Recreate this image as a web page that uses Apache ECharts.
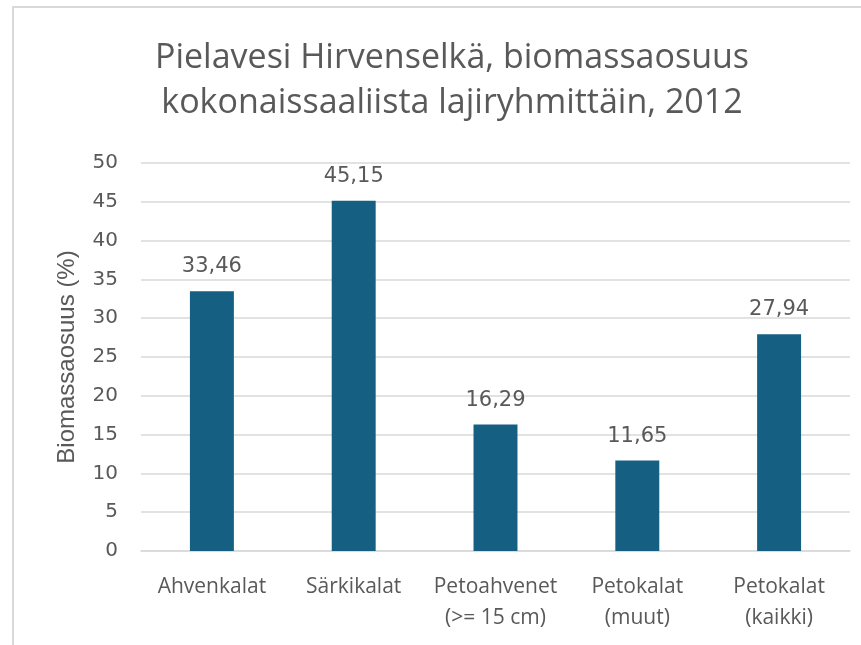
<!DOCTYPE html>
<html>
<head>
<meta charset="utf-8">
<script src="https://cdn.jsdelivr.net/npm/echarts@6/dist/echarts.min.js"></script>
<style>
  html, body { margin: 0; padding: 0; background: #fff; }
  #chart { width: 861px; height: 645px; }
</style>
</head>
<body>
<div id="chart"></div>
<script>
// data
var categories = ['Ahvenkalat', 'Särkikalat', 'Petoahvenet\n(>= 15 cm)', 'Petokalat\n(muut)', 'Petokalat\n(kaikki)'];
var values = [33.46, 45.15, 16.29, 11.65, 27.94];

var sans = '"Open Sans", "Noto Sans", sans-serif';
var numFont = '"DejaVu Sans", sans-serif';
var textColor = '#595959';

var myChart = echarts.init(document.getElementById('chart'), null, { renderer: 'canvas' });

myChart.setOption({
  animation: false,
  title: {
    text: 'Pielavesi Hirvenselkä, biomassaosuus\nkokonaissaaliista lajiryhmittäin, 2012',
    left: 447,
    top: 31,
    textAlign: 'center',
    textStyle: {
      color: textColor,
      fontFamily: sans,
      fontSize: 34,
      fontWeight: 'normal',
      lineHeight: 45
    }
  },
  graphic: [{
    type: 'rect',
    shape: { x: 13, y: 7, width: 900, height: 700 },
    style: { fill: 'none', stroke: '#d9d9d9', lineWidth: 2 },
    silent: true
  }],
  grid: { left: 141, right: 11, top: 163, bottom: 94 },
  xAxis: {
    type: 'category',
    data: categories,
    axisTick: { show: false },
    axisLine: { lineStyle: { color: '#d9d9d9', width: 1.5 } },
    axisLabel: {
      color: textColor,
      fontFamily: sans,
      fontSize: 21,
      lineHeight: 31,
      margin: 21,
      interval: 0
    }
  },
  yAxis: {
    type: 'value',
    min: 0,
    max: 50,
    interval: 5,
    name: 'Biomassaosuus (%)',
    nameLocation: 'middle',
    nameGap: 62,
    nameTextStyle: { color: textColor, fontFamily: '"Liberation Sans", Arial, sans-serif', fontSize: 24 },
    axisLine: { show: false },
    axisTick: { show: false },
    axisLabel: { color: textColor, fontFamily: numFont, fontSize: 20, margin: 23 },
    splitLine: { lineStyle: { color: '#d9d9d9', width: 1.5 } }
  },
  series: [{
    type: 'bar',
    data: values,
    barWidth: '31%',
    itemStyle: { color: '#156082' },
    label: {
      show: true,
      position: 'top',
      distance: 14,
      color: textColor,
      fontFamily: numFont,
      fontSize: 21,
      formatter: function (p) { return p.value.toFixed(2).replace('.', ','); }
    }
  }]
});

window.addEventListener('resize', myChart.resize);
</script>
</body>
</html>
